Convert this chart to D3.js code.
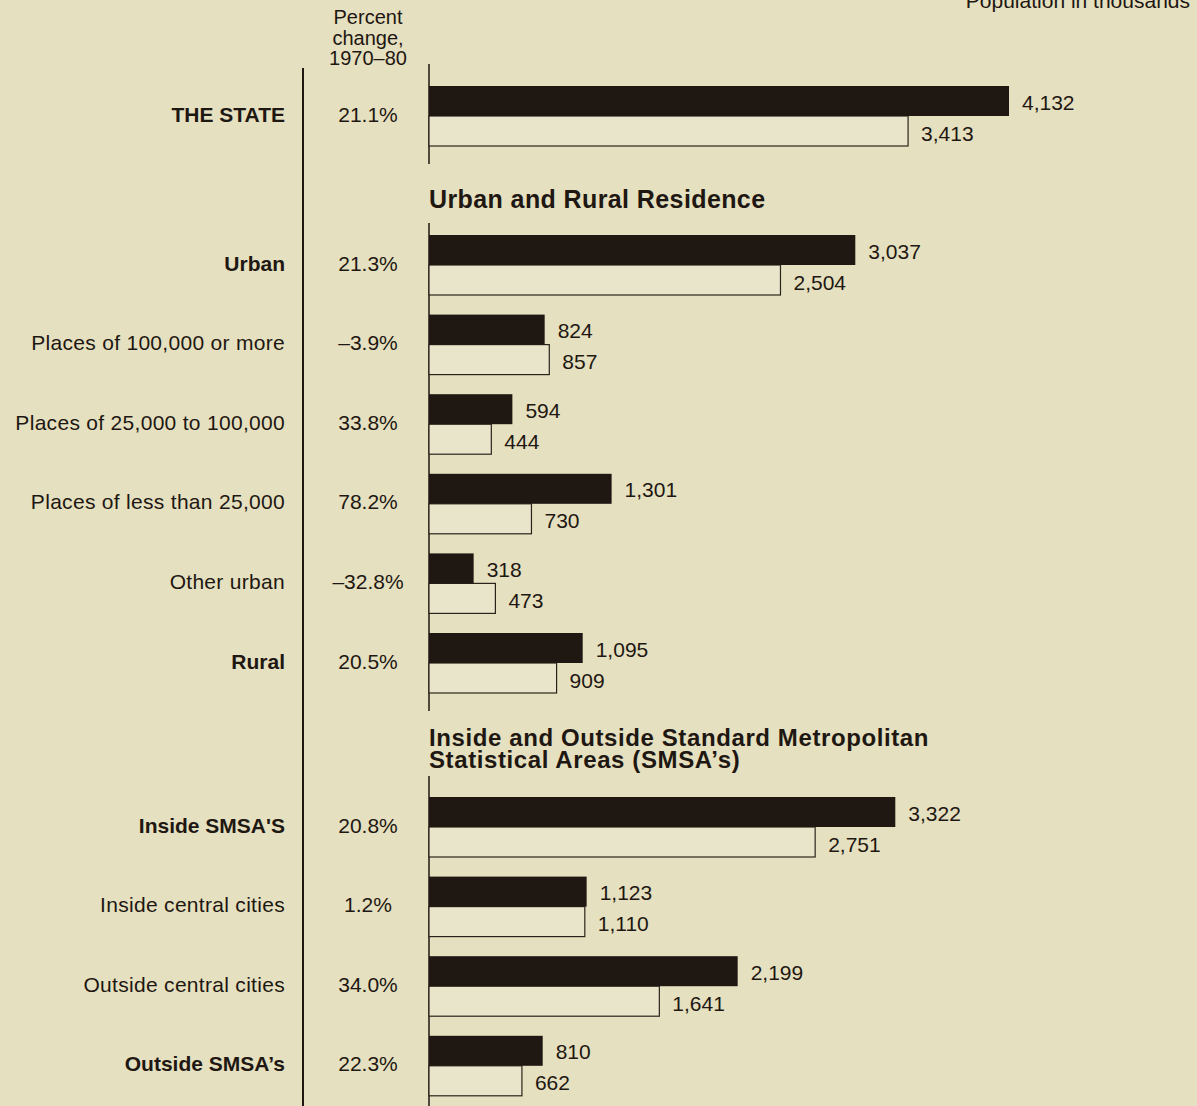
<!DOCTYPE html>
<html>
<head>
<meta charset="utf-8">
<script src="https://cdn.jsdelivr.net/npm/d3@7"></script>
<style>
  html, body { margin: 0; padding: 0; background: #e5e0bf; }
  svg { display: block; font-family: "Liberation Sans", Arial, Helvetica, sans-serif; }
</style>
</head>
<body>
<svg id="chart" width="1197" height="1106"></svg>
<script>
// ---- data ----
const categories = [
  "THE STATE",
  "Urban",
  "Places of 100,000 or more",
  "Places of 25,000 to 100,000",
  "Places of less than 25,000",
  "Other urban",
  "Rural",
  "Inside SMSA'S",
  "Inside central cities",
  "Outside central cities",
  "Outside SMSA\u2019s"
];
const pop1980 = [4132, 3037, 824, 594, 1301, 318, 1095, 3322, 1123, 2199, 810];
const pop1970 = [3413, 2504, 857, 444, 730, 473, 909, 2751, 1110, 1641, 662];
const pctChange = [21.1, 21.3, -3.9, 33.8, 78.2, -32.8, 20.5, 20.8, 1.2, 34.0, 22.3];
const rowGroup = [0, 1, 1, 1, 1, 1, 1, 2, 2, 2, 2];
const groupTitles = [
  [],
  ["Urban and Rural Residence"],
  ["Inside and Outside Standard Metropolitan", "Statistical Areas (SMSA\u2019s)"]
];
const boldRows = ["THE STATE", "Urban", "Rural", "Inside SMSA'S", "Outside SMSA\u2019s"];
const headerLines = ["Percent", "change,", "1970\u201380"];
const unitsLabel = "Population in thousands";

// ---- layout ----
const W = 1197, H = 1106;
const svg = d3.select("#chart");
const ink = "#1e1712";
const axisX = 429, dividerX = 303, labelRight = 285, pctCenter = 368;
const barH = 30, step = 79.6, titleGap = 69.4, titleLineH = 15;

const x = d3.scaleLinear().domain([0, d3.max(pop1980)]).range([axisX, 1009]);

// y boundary between the two bars of each row
const yb = [];
let cur = 116;
categories.forEach((c, i) => {
  if (i > 0) {
    if (rowGroup[i] !== rowGroup[i - 1]) {
      const n = groupTitles[rowGroup[i]].length;
      cur += step + titleGap + titleLineH * Math.max(0, n - 1);
    } else cur += step;
  }
  yb.push(cur);
});

const fmt = d3.format(",");
const pfmt = v => d3.format(".1f")(v).replace("\u2212", "\u2013") + "%";

// header
svg.append("text").attr("x", 1190).attr("y", 8).attr("text-anchor", "end")
  .attr("font-size", 21).attr("fill", ink).text(unitsLabel);
svg.selectAll("text.hdr").data(headerLines).join("text").attr("class", "hdr")
  .attr("x", pctCenter).attr("y", (d, i) => 24 + i * 20.5)
  .attr("text-anchor", "middle").attr("font-size", 20).attr("fill", ink).text(d => d);

// divider line
svg.append("line").attr("x1", dividerX).attr("x2", dividerX).attr("y1", 68).attr("y2", H)
  .attr("stroke", ink).attr("stroke-width", 2);

// group titles and axis segments
const groups = d3.range(groupTitles.length);
groups.forEach(g => {
  const rows = d3.range(categories.length).filter(i => rowGroup[i] === g);
  const first = rows[0], last = rows[rows.length - 1];
  const firstTop = yb[first] - barH;
  const lines = groupTitles[g];
  let segTop = firstTop - 22;
  if (lines.length) {
    const multi = lines.length > 1;
    const lastBase = multi ? firstTop - 29 : firstTop - 27;
    lines.forEach((t, k) => {
      svg.append("text").attr("x", axisX).attr("y", lastBase - (lines.length - 1 - k) * 22)
        .attr("font-size", multi ? 24 : 25).attr("font-weight", "bold")
        .attr("letter-spacing", multi ? 0.6 : 0.4)
        .attr("fill", ink).text(t);
    });
    segTop = multi ? lastBase + 8 : firstTop - 12;
  }
  const segBottom = g === groups.length - 1 ? H : yb[last] + barH + 18;
  svg.append("line").attr("x1", axisX).attr("x2", axisX).attr("y1", segTop).attr("y2", segBottom)
    .attr("stroke", ink).attr("stroke-width", 1.5);
});

const rowsSel = svg.selectAll("g.row").data(categories).join("g").attr("class", "row");

// 1970 bars (light, outlined)
rowsSel.append("rect")
  .attr("x", axisX).attr("y", (d, i) => yb[i])
  .attr("width", (d, i) => x(pop1970[i]) - axisX).attr("height", barH)
  .attr("fill", "#e9e5cb").attr("stroke", "#2a231c").attr("stroke-width", 1.2);

// 1980 bars (dark)
rowsSel.append("rect")
  .attr("x", axisX).attr("y", (d, i) => yb[i] - barH)
  .attr("width", (d, i) => x(pop1980[i]) - axisX).attr("height", barH)
  .attr("fill", ink);

// value labels
rowsSel.append("text")
  .attr("x", (d, i) => x(pop1980[i]) + 13).attr("y", (d, i) => yb[i] - barH / 2 + 1)
  .attr("dominant-baseline", "central").attr("font-size", 21).attr("fill", ink)
  .text((d, i) => fmt(pop1980[i]));
rowsSel.append("text")
  .attr("x", (d, i) => x(pop1970[i]) + 13).attr("y", (d, i) => yb[i] + barH / 2 + 2)
  .attr("dominant-baseline", "central").attr("font-size", 21).attr("fill", ink)
  .text((d, i) => fmt(pop1970[i]));

// category labels
rowsSel.append("text")
  .attr("x", labelRight).attr("y", (d, i) => yb[i] - 2)
  .attr("text-anchor", "end").attr("dominant-baseline", "central")
  .attr("font-size", 21)
  .attr("font-weight", d => boldRows.includes(d) ? "bold" : "normal")
  .attr("letter-spacing", d => boldRows.includes(d) ? 0 : 0.3)
  .attr("fill", ink).text(d => d);

// percent change
rowsSel.append("text")
  .attr("x", pctCenter).attr("y", (d, i) => yb[i] - 2)
  .attr("text-anchor", "middle").attr("dominant-baseline", "central")
  .attr("font-size", 21).attr("fill", ink)
  .text((d, i) => pfmt(pctChange[i]));
</script>
</body>
</html>
